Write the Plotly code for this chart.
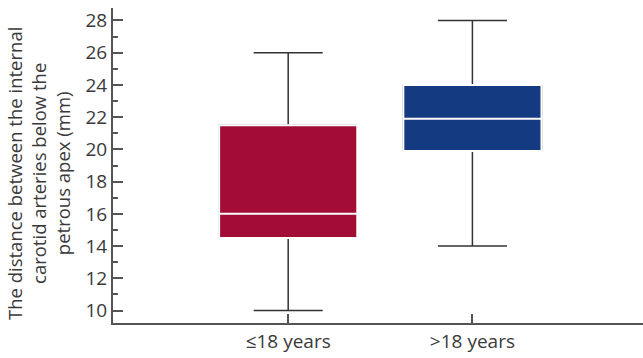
import plotly.graph_objects as go

categories = ["≤18 years", ">18 years"]
lower_whisker = [10, 14]
q1_values = [14.5, 19.9]
median_values = [16, 21.9]
q3_values = [21.5, 24]
upper_whisker = [26, 28]
box_colors = ["#A20C35", "#143A82"]
y_title = "The distance between the internal<br>carotid arteries below the<br>petrous apex (mm)"

fig = go.Figure()
# whiskers + filled box
for i, cat in enumerate(categories):
    fig.add_trace(go.Box(
        x=[cat], q1=[q1_values[i]], median=[median_values[i]], q3=[q3_values[i]],
        lowerfence=[lower_whisker[i]], upperfence=[upper_whisker[i]],
        width=0.75, whiskerwidth=0.5, fillcolor=box_colors[i],
        line=dict(color="#333333", width=1.5), boxpoints=False,
        showlegend=False, hoverinfo="skip"))
# box body with white median (covers outline)
for i, cat in enumerate(categories):
    fig.add_trace(go.Box(
        x=[cat], q1=[q1_values[i]], median=[median_values[i]], q3=[q3_values[i]],
        lowerfence=[q1_values[i]], upperfence=[q3_values[i]],
        width=0.75, whiskerwidth=0, fillcolor=box_colors[i],
        line=dict(color="#FFFFFF", width=2), boxpoints=False,
        showlegend=False, hoverinfo="skip"))

fig.update_layout(
    width=643, height=358,
    margin=dict(l=113, r=0, t=8, b=35),
    paper_bgcolor="white", plot_bgcolor="white",
    boxmode="overlay",
    font=dict(family="Open Sans", size=19, color="#3a3a3a"),
    xaxis=dict(
        type="category", range=[-0.951, 1.926],
        showline=True, linecolor="#555555", linewidth=2,
        ticks="inside", ticklen=9, tickcolor="#555555", tickwidth=2,
        showgrid=False, zeroline=False, tickfont=dict(size=19),
    ),
    yaxis=dict(
        range=[9.23, 28.77], dtick=2, tick0=10,
        showline=True, linecolor="#555555", linewidth=2,
        ticks="inside", ticklen=10, tickcolor="#555555", tickwidth=1.5,
        minor=dict(dtick=1, tick0=10, ticks="inside", ticklen=5, tickcolor="#555555", tickwidth=1.5),
        showgrid=False, zeroline=False, tickfont=dict(size=19),
    ),
    annotations=[dict(
        text=y_title, textangle=-90, showarrow=False,
        xref="paper", yref="paper", x=-0.1415, y=0.473,
        xanchor="center", yanchor="middle",
        font=dict(size=18.5, color="#3a3a3a"),
    )],
)

fig.write_html("out.html")
